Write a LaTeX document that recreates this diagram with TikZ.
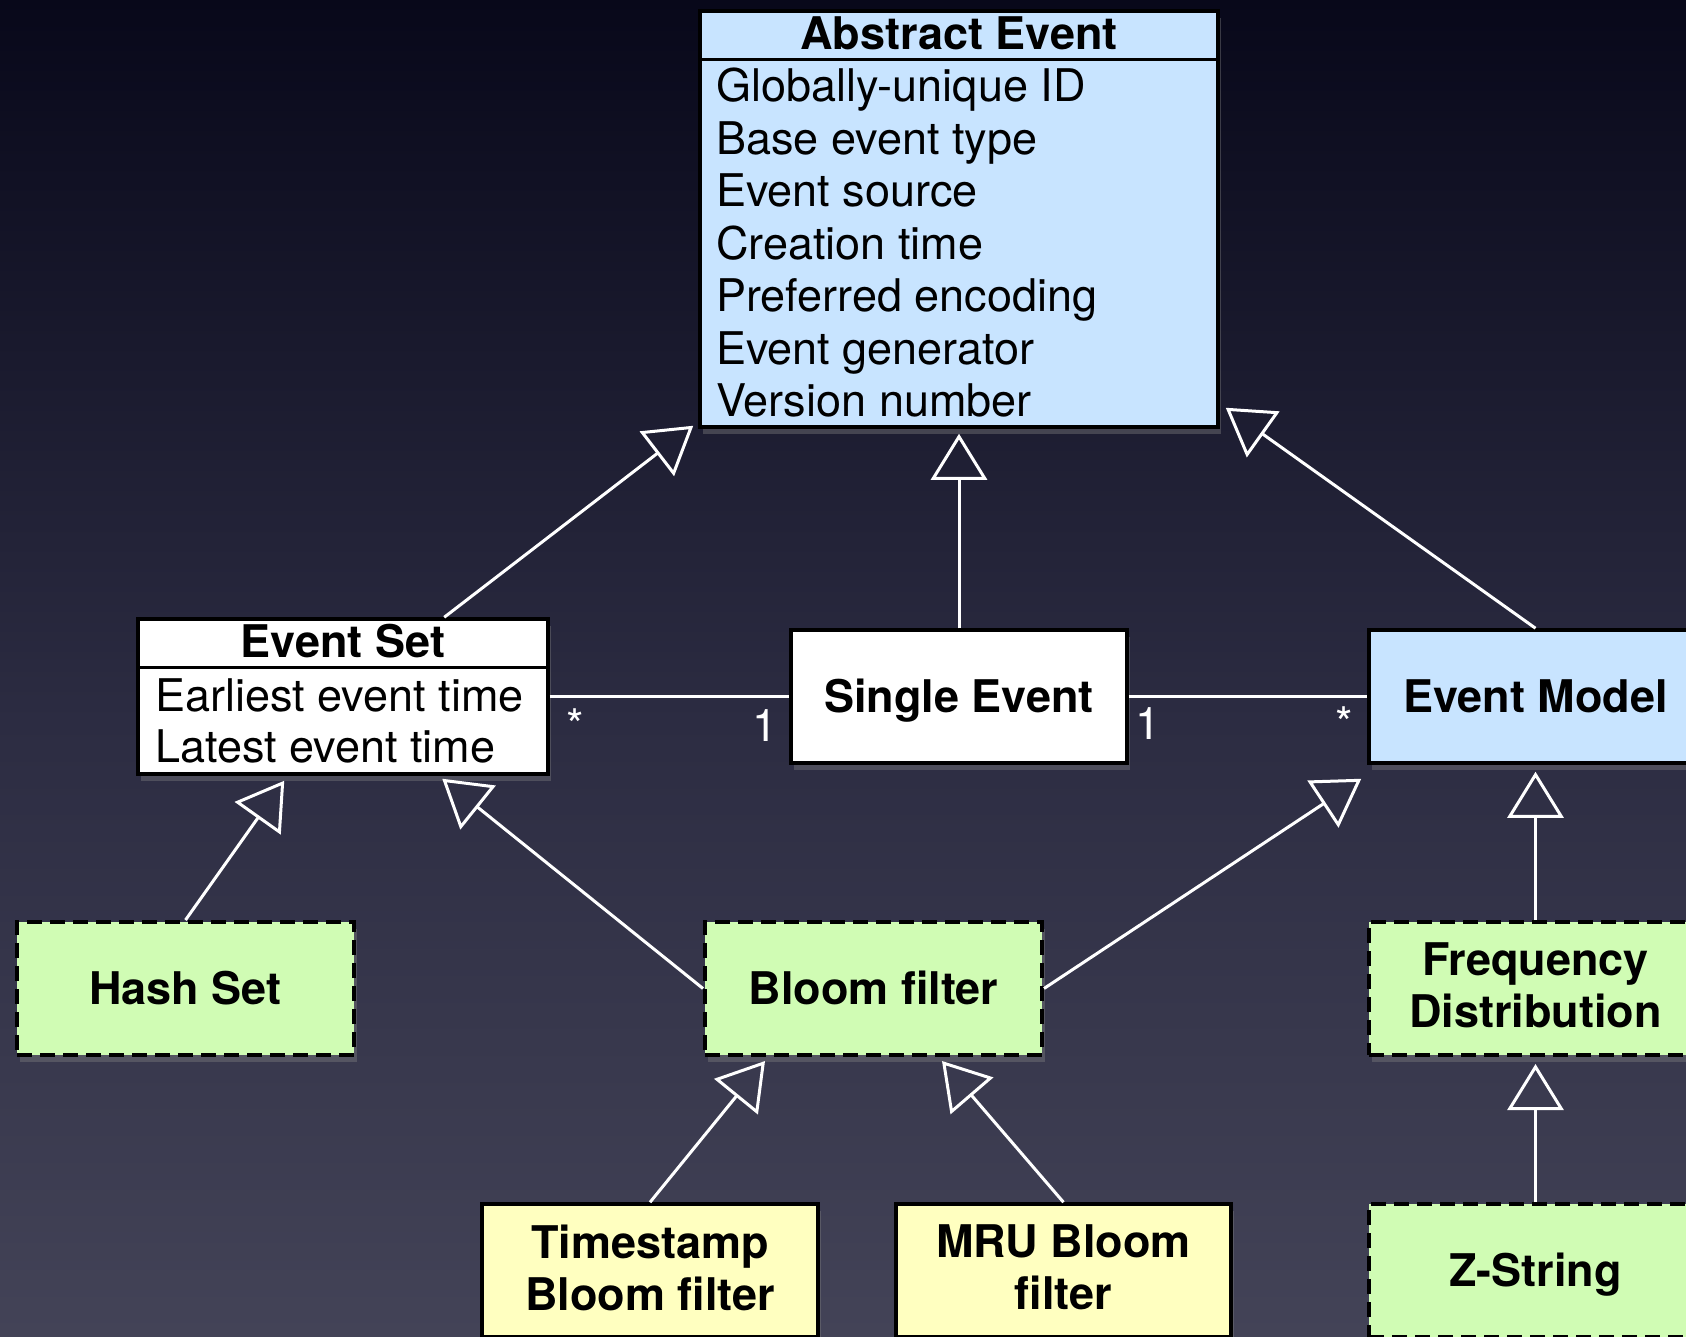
\documentclass[tikz,border=0pt]{standalone}
\usepackage{fontspec}
\setmainfont{TeX Gyre Heros}
\usetikzlibrary{arrows.meta,calc,shadows}
\definecolor{bgA}{RGB}{0,0,6}
\definecolor{bgB}{RGB}{8,8,26}
\definecolor{bgC}{RGB}{44,44,66}
\definecolor{bgD}{RGB}{92,92,110}
\definecolor{umlblue}{RGB}{200,228,255}
\definecolor{umlgreen}{RGB}{208,252,180}
\definecolor{umlyellow}{RGB}{255,255,192}
\pgfdeclareverticalshading{bgshade}{100bp}{color(0bp)=(bgD); color(48bp)=(bgC); color(75bp)=(bgB); color(100bp)=(bgA)}
\begin{document}
\begin{tikzpicture}[x=1pt,y=-1pt,
  box/.style={draw=black, line width=3.5pt, rectangle, inner sep=0pt,
    drop shadow={shadow xshift=3pt, shadow yshift=-7pt, opacity=0.4}},
  dashbox/.style={box, line width=4pt, dash pattern=on 15pt off 8pt},
  big/.style={font=\fontsize{45}{52}\selectfont\bfseries},
  plain/.style={font=\fontsize{45}{52}\selectfont},
  one/.style={text height=32pt, text depth=0pt},
  two/.style={align=center, text depth=6pt},
  txt/.style={inner sep=0pt},
  inh/.style={draw=white, line width=3pt, -{Triangle[open, length=46pt, width=56pt]}},
  assoc/.style={draw=white, line width=3pt},
  mult/.style={text=white, font=\fontsize{45}{52}\selectfont, anchor=base, inner sep=0pt},
]
\useasboundingbox (0,0) rectangle (1686,1336);
\shade[shading=bgshade] (0,0) rectangle (1686,1336);
\clip (0,0) rectangle (1686,1336);

% Abstract Event
\node[box, fill=umlblue, minimum width=518pt, minimum height=416pt] (ae) at (959,219) {};
\draw[line width=3.5pt] ($(ae.north west)+(0,50)$) -- ($(ae.north east)+(0,50)$);
\node[big, txt, anchor=base] (aeh) at (959,49) {Abstract Event};
\foreach \t [count=\i] in {Globally-unique ID, Base event type, Event source, Creation time, Preferred encoding, Event generator, Version number}
  \node[plain, txt, anchor=base west] (ae\i) at (716,{49+52.5*\i}) {\t};

% Event Set
\node[box, fill=white, minimum width=410pt, minimum height=155pt] (es) at (343,696.5) {};
\draw[line width=3.5pt] ($(es.north west)+(0,50)$) -- ($(es.north east)+(0,50)$);
\node[big, txt, anchor=base] (esh) at (343,657) {Event Set};
\node[plain, txt, anchor=base west] (es1) at (155,711) {Earliest event time};
\node[plain, txt, anchor=base west] (es2) at (155,762) {Latest event time};

% Single Event, Event Model
\node[box, fill=white, minimum width=336pt, minimum height=133pt, big, one] (se) at (959,696.5) {Single Event};
\node[box, fill=umlblue, minimum width=333pt, minimum height=133pt, big, one] (em) at (1535.5,696.5) {Event Model};

% Second row
\node[dashbox, fill=umlgreen, minimum width=337pt, minimum height=133pt, big, one] (hs) at (185.5,988.5) {Hash Set};
\node[dashbox, fill=umlgreen, minimum width=337pt, minimum height=133pt, big, one] (bf) at (873.5,988.5) {Bloom filter};
\node[dashbox, fill=umlgreen, minimum width=333pt, minimum height=133pt, big, two] (fd) at (1535.5,988.5) {Frequency\\Distribution};

% Third row
\node[box, fill=umlyellow, minimum width=336pt, minimum height=133pt, big, two] (ts) at (650,1270.5) {Timestamp\\Bloom filter};
\node[box, fill=umlyellow, minimum width=335pt, minimum height=133pt, big, two] (mru) at (1063.5,1270.5) {MRU Bloom\\filter};
\node[dashbox, fill=umlgreen, minimum width=333pt, minimum height=133pt, big, one] (zs) at (1535.5,1270.5) {Z-String};

% Connectors
\draw[inh] ($(es.north west)+(308,0)$) -- ($(ae.south west)+(-5,-3)$);
\draw[inh] (se.north) -- ([yshift=-5pt]ae.south);
\draw[inh] (em.north) -- ($(ae.south east)+(6,-21)$);
\draw[assoc] (es.east) -- (se.west);
\draw[assoc] (se.east) -- (em.west);
\draw[inh] (hs.north) -- ($(es.south west)+(148,5)$);
\draw[inh] (bf.west) -- ($(es.south west)+(306,3)$);
\draw[inh] (bf.east) -- ($(em.south west)+(-6,14)$);
\draw[inh] (fd.north) -- ([yshift=-7pt]em.south);
\draw[inh] (ts.north) -- ($(bf.south west)+(62,4)$);
\draw[inh] (mru.north) -- ($(bf.south west)+(239,4)$);
\draw[inh] (zs.north) -- ([yshift=-7pt]fd.south);

% Multiplicities
\node[mult] (m1) at (575,741) {*};
\node[mult] (m2) at (765,741) {1};
\node[mult] (m3) at (1148,739) {1};
\node[mult] (m4) at (1344,739) {*};
\end{tikzpicture}
\end{document}
